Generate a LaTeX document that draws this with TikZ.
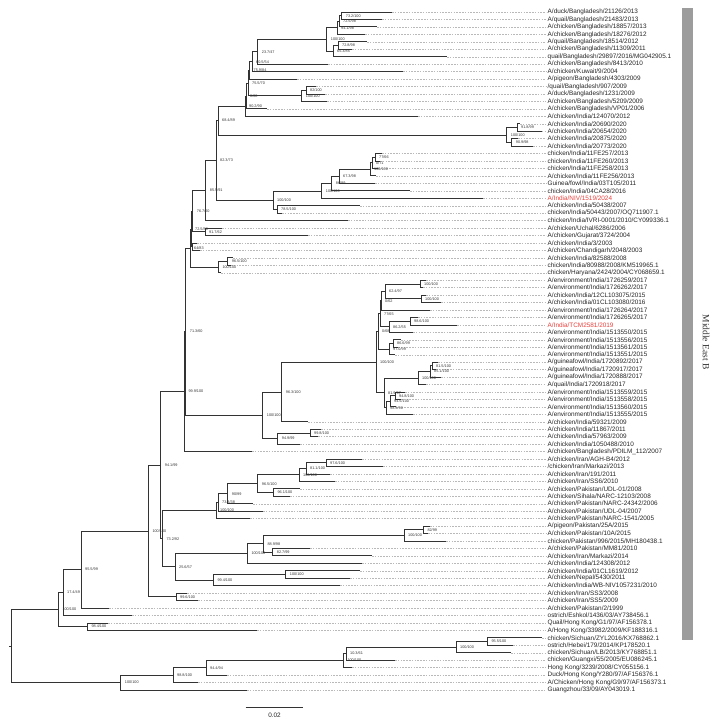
\documentclass[tikz,border=0pt]{standalone}
\usepackage{fontspec}
\setmainfont{Liberation Sans}
\newfontfamily\cladefont{Liberation Serif}
\usetikzlibrary{calc}
\definecolor{taxred}{HTML}{E8413C}
\definecolor{cladegray}{HTML}{9C9C9C}

% one tip: tip point, name and dotted leader
\newcommand{\leaf}[4][black!85]{%
  \coordinate (t#2) at (#3,{12+(#2-1)*7.45});
  \node[taxon, text=#1] (l#2) at (546,{12+(#2-1)*7.45}) {#4};
  \draw[leader] (t#2) -- (l#2.west);
}
% one inner node: name, x, two children, support value
\newcommand{\clade}[5]{%
  \path ($(#3)!.5!(#4)$) coordinate (#1m);
  \coordinate (#1) at (#1m-|#2,0);
  \draw[branch] (#1) |- (#3);
  \draw[branch] (#1) |- (#4);
  \node[boot] (#1b) at (#1) {#5};
}

\begin{document}
\begin{tikzpicture}[
    x=1pt, y=-1pt,
    branch/.style={draw=black!80, line width=0.8pt},
    leader/.style={draw=gray!55, line width=0.35pt, dash pattern=on 1.6pt off 1.2pt},
    taxon/.style={anchor=west, inner xsep=1.5pt, inner ysep=0pt, font=\fontsize{6.4}{7}\selectfont},
    boot/.style={anchor=west, xshift=4pt, inner sep=0pt, font=\fontsize{3.8}{4}\selectfont, text=black!80}
]
    \useasboundingbox (0,0) rectangle (719,722);

    % Tips
    \leaf{1}{392}{A/duck/Bangladesh/21126/2013}
    \leaf{2}{382}{A/quail/Bangladesh/21483/2013}
    \leaf{3}{377}{A/chicken/Bangladesh/18857/2013}
    \leaf{4}{365}{A/chicken/Bangladesh/18276/2012}
    \leaf{5}{367}{A/quail/Bangladesh/18514/2012}
    \leaf{6}{352}{A/chicken/Bangladesh/11309/2011}
    \leaf{7}{447}{quail/Bangladesh/29897/2016/MG042905.1}
    \leaf{8}{328}{A/chicken/Bangladesh/8413/2010}
    \leaf{9}{403}{A/chicken/Kuwait/9/2004}
    \leaf{10}{297}{A/pigeon/Bangladesh/4303/2009}
    \leaf{11}{316}{/quail/Bangladesh/907/2009}
    \leaf{12}{325}{A/duck/Bangladesh/1231/2009}
    \leaf{13}{327}{A/chicken/Bangladesh/5209/2009}
    \leaf{14}{267}{A/chicken/Bangladesh/VP01/2006}
    \leaf{15}{418}{A/chicken/India/124070/2012}
    \leaf{16}{520}{A/chicken/India/20690/2020}
    \leaf{17}{541.7}{A/chicken/India/20654/2020}
    \leaf{18}{518}{A/chicken/India/20875/2020}
    \leaf{19}{533}{A/chicken/India/20773/2020}
    \leaf{20}{382}{chicken/India/11FE257/2013}
    \leaf{21}{380}{chicken/India/11FE260/2013}
    \leaf{22}{378}{chicken/India/11FE258/2013}
    \leaf{23}{376}{A/chicken/India/11FE256/2013}
    \leaf{24}{375}{Guinea/fowl/India/03T105/2011}
    \leaf{25}{410}{chicken/India/04CA28/2016}
    \leaf[taxred]{26}{483}{A/India/NIV/1519/2024}
    \leaf{27}{360}{A/chicken/India/50438/2007}
    \leaf{28}{282}{chicken/India/50443/2007/OQ711907.1}
    \leaf{29}{348}{chicken/India/IVRI-0001/2010/CY099336.1}
    \leaf{30}{222}{A/chicken/Uchal/6286/2006}
    \leaf{31}{308}{A/chicken/Gujarat/3724/2004}
    \leaf{32}{197}{A/chicken/India/3/2003}
    \leaf{33}{200}{A/chicken/Chandigarh/2048/2003}
    \leaf{34}{233}{A/chicken/India/82588/2008}
    \leaf{35}{231}{chicken/India/80988/2008/KM519965.1}
    \leaf{36}{221}{chicken/Haryana/2424/2004/CY068659.1}
    \leaf{37}{426}{A/environment/India/1726259/2017}
    \leaf{38}{423}{A/environment/India/1726262/2017}
    \leaf{39}{426}{A/chicken/India/12CL103075/2015}
    \leaf{40}{441}{A/chicken/India/01CL103080/2016}
    \leaf{41}{430}{A/environment/India/1726264/2017}
    \leaf{42}{418}{A/environment/India/1726265/2017}
    \leaf[taxred]{43}{457}{A/India/TCM2581/2019}
    \leaf{44}{413}{A/environment/India/1513550/2015}
    \leaf{45}{401}{A/environment/India/1513556/2015}
    \leaf{46}{398}{A/environment/India/1513561/2015}
    \leaf{47}{395}{A/environment/India/1513551/2015}
    \leaf{48}{438}{A/guineafowl/India/1720892/2017}
    \leaf{49}{436}{A/guineafowl/India/1720917/2017}
    \leaf{50}{441}{A/guineafowl/India/1720888/2017}
    \leaf{51}{426}{A/quail/India/1720918/2017}
    \leaf{52}{405}{A/environment/India/1513559/2015}
    \leaf{53}{401}{A/environment/India/1513558/2015}
    \leaf{54}{396}{A/environment/India/1513560/2015}
    \leaf{55}{413}{A/environment/India/1513555/2015}
    \leaf{56}{308}{A/chicken/India/59321/2009}
    \leaf{57}{321}{A/chicken/India/11867/2011}
    \leaf{58}{318}{A/chicken/India/57963/2009}
    \leaf{59}{300}{A/chicken/India/1050488/2010}
    \leaf{60}{252}{A/chicken/Bangladesh/PDILM\_112/2007}
    \leaf{61}{362}{A/chicken/Iran/AGH-B4/2012}
    \leaf{62}{383}{/chicken/Iran/Markazi/2013}
    \leaf{63}{330}{A/chicken/Iran/191/2011}
    \leaf{64}{335}{A/chicken/Iran/SS6/2010}
    \leaf{65}{300}{A/chicken/Pakistan/UDL-01/2008}
    \leaf{66}{290}{A/chicken/Sihala/NARC-12103/2008}
    \leaf{67}{253}{A/chicken/Pakistan/NARC-24342/2006}
    \leaf{68}{263}{A/chicken/Pakistan/UDL-04/2007}
    \leaf{69}{250}{A/chicken/Pakistan/NARC-1541/2005}
    \leaf{70}{430}{A/pigeon/Pakistan/25A/2015}
    \leaf{71}{428}{A/chicken/Pakistan/10A/2015}
    \leaf{72}{446}{chicken/Pakistan/996/2015/MH180438.1}
    \leaf{73}{310}{A/chicken/Pakistan/MM81/2010}
    \leaf{74}{372}{A/chicken/Iran/Markazi/2014}
    \leaf{75}{362}{A/chicken/India/124308/2012}
    \leaf{76}{360}{A/chicken/India/01CL1619/2012}
    \leaf{77}{350}{A/chicken/Nepal/5430/2011}
    \leaf{78}{340}{A/chicken/India/WB-NIV1057231/2010}
    \leaf{79}{187}{A/chicken/Iran/SS3/2008}
    \leaf{80}{198}{A/chicken/Iran/SS5/2009}
    \leaf{81}{109}{A/chicken/Pakistan/2/1999}
    \leaf{82}{132}{ostrich/Eshkol/1436/03/AY738456.1}
    \leaf{83}{108}{Quail/Hong Kong/G1/97/AF156378.1}
    \leaf{84}{257}{A/Hong Kong/33982/2009/KF188316.1}
    \leaf{85}{542}{chicken/Sichuan/ZYL2016/KX768862.1}
    \leaf{86}{513}{ostrich/Hebei/179/2014/KP178520.1}
    \leaf{87}{511}{chicken/Sichuan/LB/2013/KY768851.1}
    \leaf{88}{395}{chicken/Guangxi/55/2005/EU086245.1}
    \leaf{89}{352}{Hong Kong/3239/2008/CY055156.1}
    \leaf{90}{227}{Duck/Hong Kong/Y280/97/AF156376.1}
    \leaf{91}{198}{A/Chicken/Hong Kong/G9/97/AF156373.1}
    \leaf{92}{247}{Guangzhou/33/09/AY043019.1}

    % Bangladesh / India upper clade
    \clade{nA}{341.7}{t1}{t2}{73.2/100}
    \clade{nB}{339}{nA}{t3}{72.5/98}
    \clade{nC}{337}{nB}{t4}{94.1/98}
    \clade{nD}{338}{t5}{t6}{72.8/98}
    \clade{nE}{333}{nD}{t7}{65.3/85}
    \clade{nF}{326.7}{nC}{nE}{100/100}
    \clade{nG}{257.7}{nF}{t8}{23.7/47}
    \clade{nK}{252}{nG}{t9}{60.5/54}
    \clade{nL}{249.5}{nK}{t10}{75.9/84}
    \clade{nI}{306}{t11}{t12}{82/100}
    \clade{nJ}{301.7}{nI}{t13}{100/100}
    \clade{nM}{248}{nL}{nJ}{75.5/70}
    \clade{nN}{246}{nM}{t14}{0/68}
    \clade{nP}{245}{nN}{t15}{90.2/90}
    \clade{nQa}{517}{t16}{t17}{91.8/99}
    \clade{nQb}{511.7}{t18}{t19}{90.9/98}
    \clade{nQ}{506.7}{nQa}{nQb}{100/100}
    \clade{nO}{218}{nP}{nQ}{68.4/89}
    \clade{nVa}{375}{t20}{t21}{77/66}
    \clade{nVb}{372}{nVa}{t22}{0/71}
    \clade{nV}{370}{nVb}{t23}{100/100}
    \clade{nW}{339}{nV}{t24}{67.3/98}
    \clade{nX}{331.7}{nW}{t25}{86/99}
    \clade{nY}{321.7}{nX}{t26}{100/100}
    \clade{nZ}{277}{t27}{t28}{78.5/100}
    \clade{nU}{273}{nY}{nZ}{100/100}
    \clade{nR}{216}{nO}{nU}{82.3/73}
    \clade{nT}{205.7}{nR}{t29}{85.5/91}
    \clade{nS}{205}{t30}{t31}{91.7/62}
    \clade{nSa}{192.7}{nT}{nS}{76.7/60}
    \clade{nSb}{192.5}{t32}{t33}{}
    \clade{nSc}{191}{nSa}{nSb}{72.5/88}
    \clade{nHa}{227.7}{t34}{t35}{96.5/100}
    \clade{nHb}{218.3}{nHa}{t36}{100/100}
    \clade{nSd}{190}{nSc}{nHb}{64/83}

    % environment / guineafowl clade
    \clade{eA}{420}{t37}{t38}{100/100}
    \clade{eB}{421}{t39}{t40}{100/100}
    \clade{eC}{385}{eA}{eB}{62.4/97}
    \clade{eD}{381}{eC}{t41}{0/62}
    \clade{eE}{410}{t42}{t43}{98.6/100}
    \clade{eF}{389}{eE}{t44}{86.2/55}
    \clade{eG}{380}{eD}{eF}{77/65}
    \clade{eH}{393}{t45}{t46}{86.6/99}
    \clade{eI}{389}{eH}{t47}{97.0/99}
    \clade{eJ}{378}{eG}{eI}{0/68}
    \clade{gA}{432}{t48}{t49}{81.5/100}
    \clade{gB}{430}{gA}{t50}{85.1/100}
    \clade{gC}{418}{gB}{t51}{100/100}
    \clade{gD}{395}{t52}{t53}{94.8/100}
    \clade{gE}{390}{gD}{t54}{94.5/100}
    \clade{gF}{386}{gE}{t55}{98.5/98}
    \clade{gG}{384}{gC}{gF}{81.9/97}
    \clade{eK}{376}{eJ}{gG}{100/100}
    \clade{cA}{310}{t57}{t58}{99.8/100}
    \clade{cB}{277.7}{cA}{t59}{94.9/99}
    \clade{cC}{281.7}{eK}{t56}{96.3/100}
    \clade{cD}{262.7}{cC}{cB}{100/100}
    \clade{nMa}{185.7}{nSd}{cD}{71.3/60}
    \clade{nMb}{184.3}{nMa}{t60}{99.9/100}

    % Iran / Pakistan clade
    \clade{iA}{326}{t61}{t62}{97.6/100}
    \clade{iB}{306}{iA}{t63}{81.1/100}
    \clade{iC}{299}{iB}{t64}{100/100}
    \clade{iD}{273.3}{t65}{t66}{96.1/100}
    \clade{iE}{257.7}{iC}{iD}{96.5/100}
    \clade{iF}{227.7}{iE}{t67}{90/99}
    \clade{iG}{218}{iF}{t68}{73.3/38}
    \clade{iH}{216}{iG}{t69}{100/100}
    \clade{pA}{423.3}{t70}{t71}{82/99}
    \clade{pB}{404}{pA}{t72}{100/100}
    \clade{pC}{272.7}{t73}{t74}{82.7/99}
    \clade{pD}{263.3}{pB}{pC}{88.9/98}
    \clade{pE}{247.3}{pD}{t75}{100/100}
    \clade{pF}{285.7}{t76}{t77}{100/100}
    \clade{pG}{213.3}{pF}{t78}{99.4/100}
    \clade{pH}{175}{pE}{pG}{25.6/57}
    \clade{iI}{162.3}{iH}{pH}{73.2/92}
    \clade{kA}{160.7}{nMb}{iI}{94.1/99}
    \clade{kB}{176}{t79}{t80}{99.6/100}
    \clade{kC}{148.3}{kA}{kB}{100/100}
    \clade{kD}{81}{kC}{t81}{95.5/99}
    \clade{kE}{63}{kD}{t82}{17.4/49}
    \clade{hA}{87.3}{t83}{t84}{98.4/100}
    \clade{kF}{58.3}{kE}{hA}{100/100}

    % Chinese / Hong Kong outgroup
    \clade{sA}{487.3}{t85}{t86}{95.5/100}
    \clade{sB}{456}{sA}{t87}{100/100}
    \clade{sC}{346}{sB}{t88}{10.3/61}
    \clade{sD}{343.3}{sC}{t89}{100/100}
    \clade{sE}{206}{sD}{t90}{94.4/94}
    \clade{sF}{173}{sE}{t91}{98.8/100}
    \clade{sG}{120.7}{sF}{t92}{100/100}

    % Root
    \clade{root}{11.7}{kF}{sG}{}
    \coordinate (stub) at ($(root)+(-2.5,0)$);
    \draw[branch] (stub) -- (root);

    % Scale bar
    \coordinate (sbl) at (245.7,707.5);
    \coordinate (sbr) at (303.3,707.5);
    \draw[branch, line width=0.6pt] (sbl) -- (sbr);
    \node[font=\fontsize{6.4}{7}\selectfont, text=black!85, inner sep=0pt] (sbtxt) at (274.5,715.5) {0.02};

    % Clade bar
    \node[fill=cladegray, anchor=north west, minimum width=11pt, minimum height=632pt, inner sep=0pt] (bar) at (682,8) {};
    \node[font=\cladefont\fontsize{9.5}{10}\selectfont, text=black!80, rotate=-90] (mideast) at (706,342) {Middle East B};
\end{tikzpicture}
\end{document}
